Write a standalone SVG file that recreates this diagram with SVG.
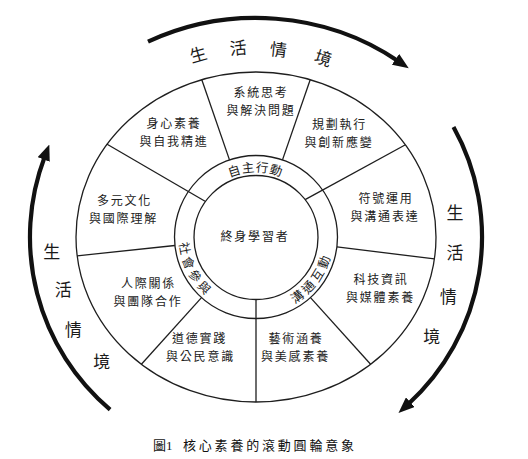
<svg xmlns="http://www.w3.org/2000/svg" width="528" height="459" viewBox="0 0 528 459">
<style>
.bg{fill:#fff}
.ln{fill:none;stroke:#1e1e1e;stroke-width:1.3}
.t{font-family:"Noto Sans CJK TC","Noto Sans CJK JP",sans-serif;font-size:12px;fill:#222;text-anchor:middle;letter-spacing:1.8px}
.rt{font-family:"Noto Sans CJK TC","Noto Sans CJK JP",sans-serif;font-size:12.5px;fill:#222;text-anchor:middle;letter-spacing:2px;dominant-baseline:central}
.big{font-family:"Noto Sans CJK TC","Noto Sans CJK JP",sans-serif;font-size:17px;fill:#1a1a1a;text-anchor:middle}
.arc{fill:none;stroke:#111;stroke-width:4.2;marker-end:url(#ah)}
.cap{font-family:"Liberation Serif","Noto Sans CJK TC",serif;font-size:13px;fill:#111}
</style>
<defs>
<marker id="ah" viewBox="0 0 16 13" markerWidth="16" markerHeight="13" refX="3" refY="6.5" orient="auto" markerUnits="userSpaceOnUse">
<path d="M0,0 L16,6.5 L0,13 z" fill="#111"/>
</marker>
<path id="pTop" d="M 194.5 201.5 A 71 71 0 0 1 317.5 201.5"/>
<path id="pRight" d="M 247.35 307.47 A 71 71 0 0 0 321.36 209.26"/>
<path id="pLeft" d="M 196.12 198.85 A 71 71 0 0 0 252.9 307.93"/>
</defs>
<rect class="bg" x="0" y="0" width="528" height="459"/>

<g id="context-arrows">
<path class="arc" d="M 148 41.7 A 240 222 0 0 1 398 61"/>
<path class="arc" d="M 110.1 409.6 A 226 226 0 0 1 44.7 156.7"/>
<path class="arc" d="M 453.5 127.1 A 226 226 0 0 1 408.1 404.2"/>
</g>

<g id="wheel">
<ellipse class="ln" cx="256" cy="237" rx="180" ry="165"/>
<circle class="ln" cx="256" cy="237" r="81.5"/>
<circle class="ln" cx="256" cy="237.5" r="62"/>
</g>

<g id="connectors">
<line class="ln" x1="106.7" y1="144" x2="205.5" y2="201.5"/>
<line class="ln" x1="405" y1="145" x2="305.1" y2="199.6"/>
<line class="ln" x1="256" y1="299.5" x2="256" y2="402"/>
<line class="ln" x1="201.8" y1="79.7" x2="229.5" y2="159.9"/>
<line class="ln" x1="310.2" y1="79.7" x2="282.5" y2="159.9"/>
<line class="ln" x1="434.4" y1="258.9" x2="336.9" y2="246.9"/>
<line class="ln" x1="370.6" y1="364.2" x2="310.5" y2="297.6"/>
<line class="ln" x1="141.4" y1="364.2" x2="201.5" y2="297.6"/>
<line class="ln" x1="77.2" y1="255.8" x2="174.9" y2="245.5"/>
</g>

<g id="center"><text class="t" x="255" y="240.5">終身學習者</text></g>

<g id="ring-autonomous"><text class="rt"><textPath href="#pTop" startOffset="50%">自主行動</textPath></text></g>
<g id="ring-communication"><text class="rt"><textPath href="#pRight" startOffset="50%">溝通互動</textPath></text></g>
<g id="ring-social"><text class="rt"><textPath href="#pLeft" startOffset="50%">社會參與</textPath></text></g>

<g id="seg-systems"><text class="t" x="261" y="97">系統思考</text><text class="t" x="261" y="115">與解決問題</text></g>
<g id="seg-planning"><text class="t" x="339.5" y="128.5">規劃執行</text><text class="t" x="339" y="146.5">與創新應變</text></g>
<g id="seg-symbols"><text class="t" x="386" y="202.5">符號運用</text><text class="t" x="385" y="220.5">與溝通表達</text></g>
<g id="seg-tech"><text class="t" x="381" y="283.5">科技資訊</text><text class="t" x="380.5" y="301.5">與媒體素養</text></g>
<g id="seg-art"><text class="t" x="296" y="342.5">藝術涵養</text><text class="t" x="295.5" y="360.5">與美感素養</text></g>
<g id="seg-moral"><text class="t" x="199.5" y="342.5">道德實踐</text><text class="t" x="200.5" y="360.5">與公民意識</text></g>
<g id="seg-interpersonal"><text class="t" x="148.5" y="287.5">人際關係</text><text class="t" x="148" y="305.5">與團隊合作</text></g>
<g id="seg-multicultural"><text class="t" x="124.5" y="205">多元文化</text><text class="t" x="123.5" y="223">與國際理解</text></g>
<g id="seg-body"><text class="t" x="174" y="127.5">身心素養</text><text class="t" x="174" y="145.5">與自我精進</text></g>

<g id="label-top">
<text class="big" x="198.3" y="61" transform="rotate(-16 198.3 55)">生</text>
<text class="big" x="238.3" y="54.3" transform="rotate(-5 238.3 48.3)">活</text>
<text class="big" x="278.3" y="56" transform="rotate(6 278.3 50)">情</text>
<text class="big" x="323.3" y="64.3" transform="rotate(18 323.3 58.3)">境</text>
</g>
<g id="label-left">
<text class="big" x="51.7" y="257.7">生</text>
<text class="big" x="63.3" y="296">活</text>
<text class="big" x="73.3" y="336">情</text>
<text class="big" x="101.7" y="367.7">境</text>
</g>
<g id="label-right">
<text class="big" x="455" y="219.3">生</text>
<text class="big" x="455" y="259.3">活</text>
<text class="big" x="448.3" y="302.7">情</text>
<text class="big" x="431.7" y="342.7">境</text>
</g>

<g id="caption"><text class="cap" x="153" y="449.5">圖1<tspan x="183" letter-spacing="2.8">核心素養的滾動圓輪意象</tspan></text></g>
</svg>
